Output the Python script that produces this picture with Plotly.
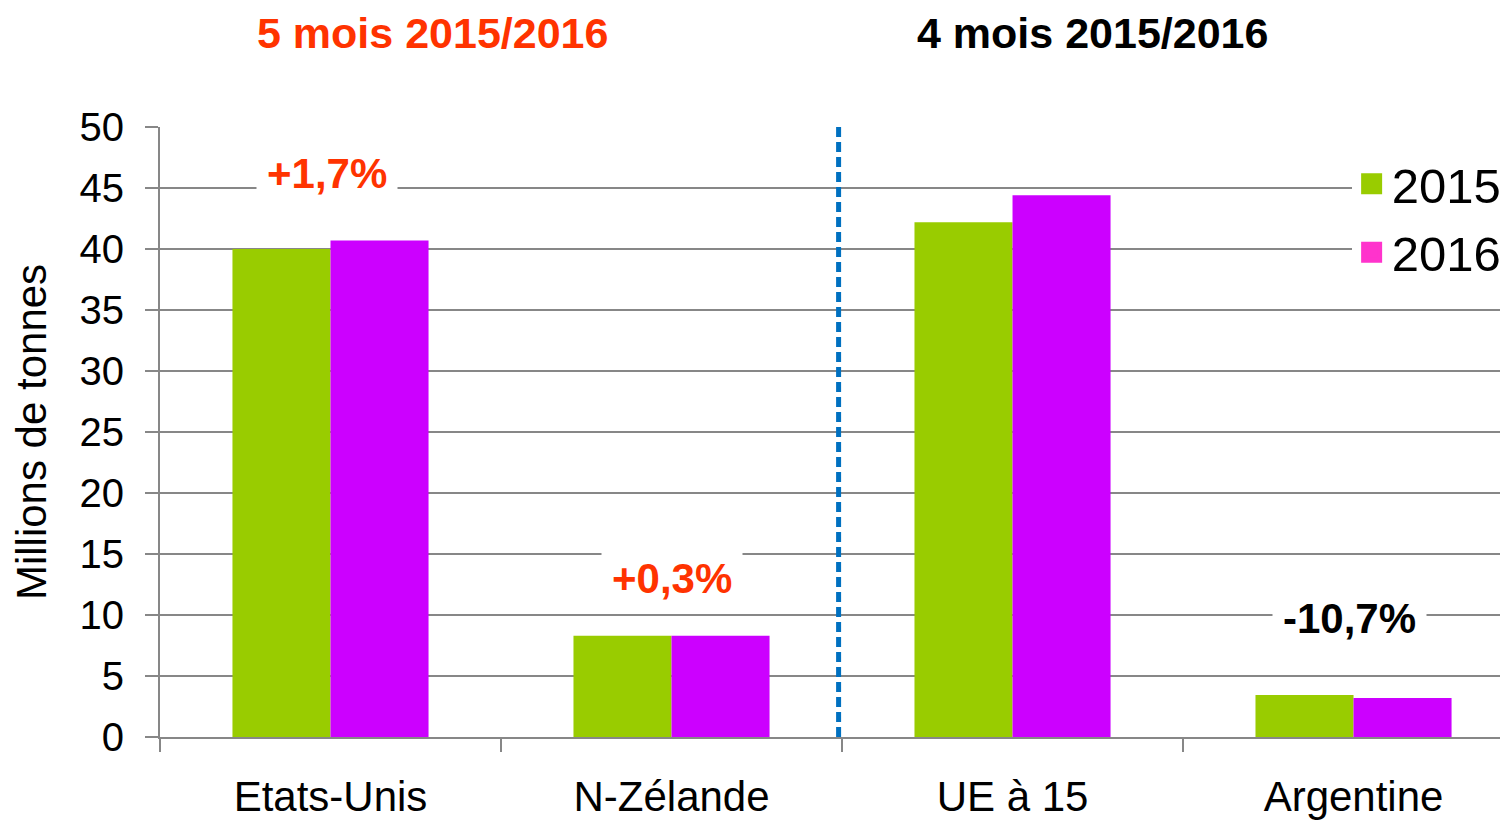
import plotly.graph_objects as go

categories = ["Etats-Unis", "N-Zélande", "UE à 15", "Argentine"]
values_2015 = [40.0, 8.3, 42.2, 3.45]
values_2016 = [40.7, 8.3, 44.4, 3.2]
changes = ["+1,7%", "+0,3%", "+5,4%", "-10,7%"]
change_y = [46.2, 13.0, 51.1, 9.75]
change_colors = ["#FF3300", "#FF3300", "#000000", "#000000"]
group_titles = ["5 mois 2015/2016", "4 mois 2015/2016"]
group_title_colors = ["#FF3300", "#000000"]
series_names = ["2015", "2016"]
bar_colors = ["#99CC00", "#CC00FF"]
legend_colors = ["#99CC00", "#FF33CC"]

change_xshift = [-4, 0, 4, -4]
group_title_x = [0.2018, 0.6914]

FONT = "Liberation Sans, Arial, sans-serif"
GRID = "#878787"

fig = go.Figure()
fig.add_trace(go.Bar(x=categories, y=values_2015, name=series_names[0],
                     marker=dict(color=bar_colors[0], line=dict(width=0)), showlegend=False))
fig.add_trace(go.Bar(x=categories, y=values_2016, name=series_names[1],
                     marker=dict(color=bar_colors[1], line=dict(width=0)), showlegend=False))
for name, col in zip(series_names, legend_colors):
    fig.add_trace(go.Scatter(x=[None], y=[None], mode="markers", name=name,
                             legendgroup=name,
                             marker=dict(symbol="square", size=16, color=col,
                                         line=dict(color=col, width=5))))

for cat, txt, yy, col, xs in zip(categories, changes, change_y, change_colors, change_xshift):
    fig.add_annotation(x=cat, y=yy, xref="x", yref="y", text="<b>%s</b>" % txt,
                       showarrow=False, bgcolor="white", borderpad=10, xshift=xs,
                       xanchor="center", yanchor="middle",
                       font=dict(family=FONT, size=42, color=col))

for t, gx, c in zip(group_titles, group_title_x, group_title_colors):
    fig.add_annotation(x=gx, y=1.154, xref="paper", yref="paper",
                       xanchor="center", yanchor="middle",
                       text="<b>%s</b>" % t, showarrow=False,
                       font=dict(family=FONT, size=43, color=c))

fig.add_shape(type="line", xref="x", yref="y", x0=1.49, x1=1.49, y0=0, y1=50,
              line=dict(color="#0070C0", width=5, dash="10px,5px"))

fig.update_layout(
    width=1500, height=812,
    margin=dict(l=152, r=0, t=119, b=83, autoexpand=False),
    paper_bgcolor="white", plot_bgcolor="white",
    barmode="group", bargap=0.425, bargroupgap=0,
    font=dict(family=FONT, size=40, color="black"),
    legend=dict(x=0.884, y=0.970, xanchor="left", yanchor="top",
                bgcolor="white", font=dict(size=49, family=FONT),
                itemwidth=30, tracegroupgap=2),
    xaxis=dict(range=[-0.5, 3.453], showline=True, linecolor=GRID, linewidth=2,
               ticks="outside",
               tickson="boundaries", ticklen=13, tickcolor=GRID, tickwidth=2,
               tickfont=dict(size=42, family=FONT), showgrid=False,
               ticklabelstandoff=22, automargin=False),
    yaxis=dict(range=[0, 50], dtick=5, showline=True, linecolor=GRID, linewidth=2,
               ticks="outside", ticklen=13, tickcolor=GRID, tickwidth=2,
               gridcolor=GRID, gridwidth=2, zeroline=False, automargin=False,
               tickfont=dict(size=40, family=FONT), ticklabelstandoff=13,
               title=dict(text="Millions de tonnes", font=dict(size=42, family=FONT),
                          standoff=23)),
)

fig.write_html("out.html")
